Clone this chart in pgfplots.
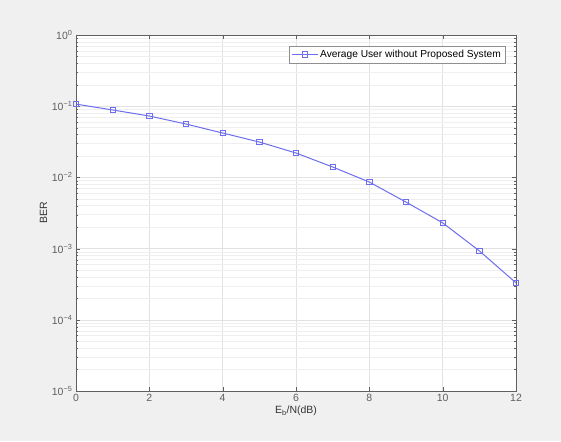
\documentclass[border=0pt]{standalone}
\usepackage{fontspec}
\setmainfont{Liberation Sans}
\usepackage{pgfplots}
\pgfplotsset{compat=1.18}
\definecolor{figbg}{RGB}{240,240,240}
\definecolor{linecol}{RGB}{110,110,238}
\definecolor{axcol}{RGB}{95,95,95}
\definecolor{gridcol}{RGB}{226,226,226}
\begin{document}
\begin{tikzpicture}[x=1pt,y=1pt]
\fill[figbg] (0,0) rectangle (561,441);
\path[use as bounding box] (0,0) rectangle (561,441);
\begin{axis}[
  at={(76pt,50pt)}, anchor=south west,
  scale only axis, width=440pt, height=356pt,
  ymode=log,
  xmin=0, xmax=12, ymin=1e-5, ymax=1,
  xtick={0,2,4,6,8,10,12},
  ytick={1e-5,1e-4,1e-3,1e-2,1e-1,1},
  yticklabels={10\textsuperscript{−5},10\textsuperscript{−4},10\textsuperscript{−3},10\textsuperscript{−2},10\textsuperscript{−1},10\textsuperscript{0}},
  /pgf/number format/assume math mode=true,
  tick label style={font=\fontsize{10.5}{12}\selectfont, text=axcol},
  label style={font=\fontsize{10.5}{12}\selectfont, text=black!80},
  xlabel={E\textsubscript{b}/N(dB)},
  ylabel={BER},
  xlabel style={yshift=3pt},
  ylabel style={yshift=-2pt},
  axis background/.style={fill=white},
  axis line style={axcol},
  tick style={axcol},
  tick align=inside,
  major tick length=4pt,
  minor tick length=2pt,
  grid=both,
  major grid style={gridcol, line width=0.6pt},
  minor grid style={gridcol!55, line width=0.5pt},
  minor x tick num=0,
  legend style={at={(0.975,0.97)}, anchor=north east, draw=axcol!70, fill=white,
    font=\fontsize{10.2}{11}\selectfont, inner sep=2pt, row sep=0pt},
  legend cell align=left,
  legend image code/.code={
    \draw[mark repeat=2,mark phase=2] plot coordinates {(0cm,0cm) (0.45cm,0cm) (0.9cm,0cm)};
  },
]
\addplot[color=linecol, line width=1pt, mark=square, mark size=2.6pt,
  mark options={fill=linecol!35, line width=0.8pt}]
  coordinates {
    (0,0.107) (1,0.0885) (2,0.0728) (3,0.0562) (4,0.042) (5,0.0314)
    (6,0.022) (7,0.014) (8,0.0086) (9,0.0045) (10,0.0023) (11,0.00093) (12,0.00033)
  };
\addlegendentry{Average User without Proposed System}
\end{axis}
\end{tikzpicture}
\end{document}
